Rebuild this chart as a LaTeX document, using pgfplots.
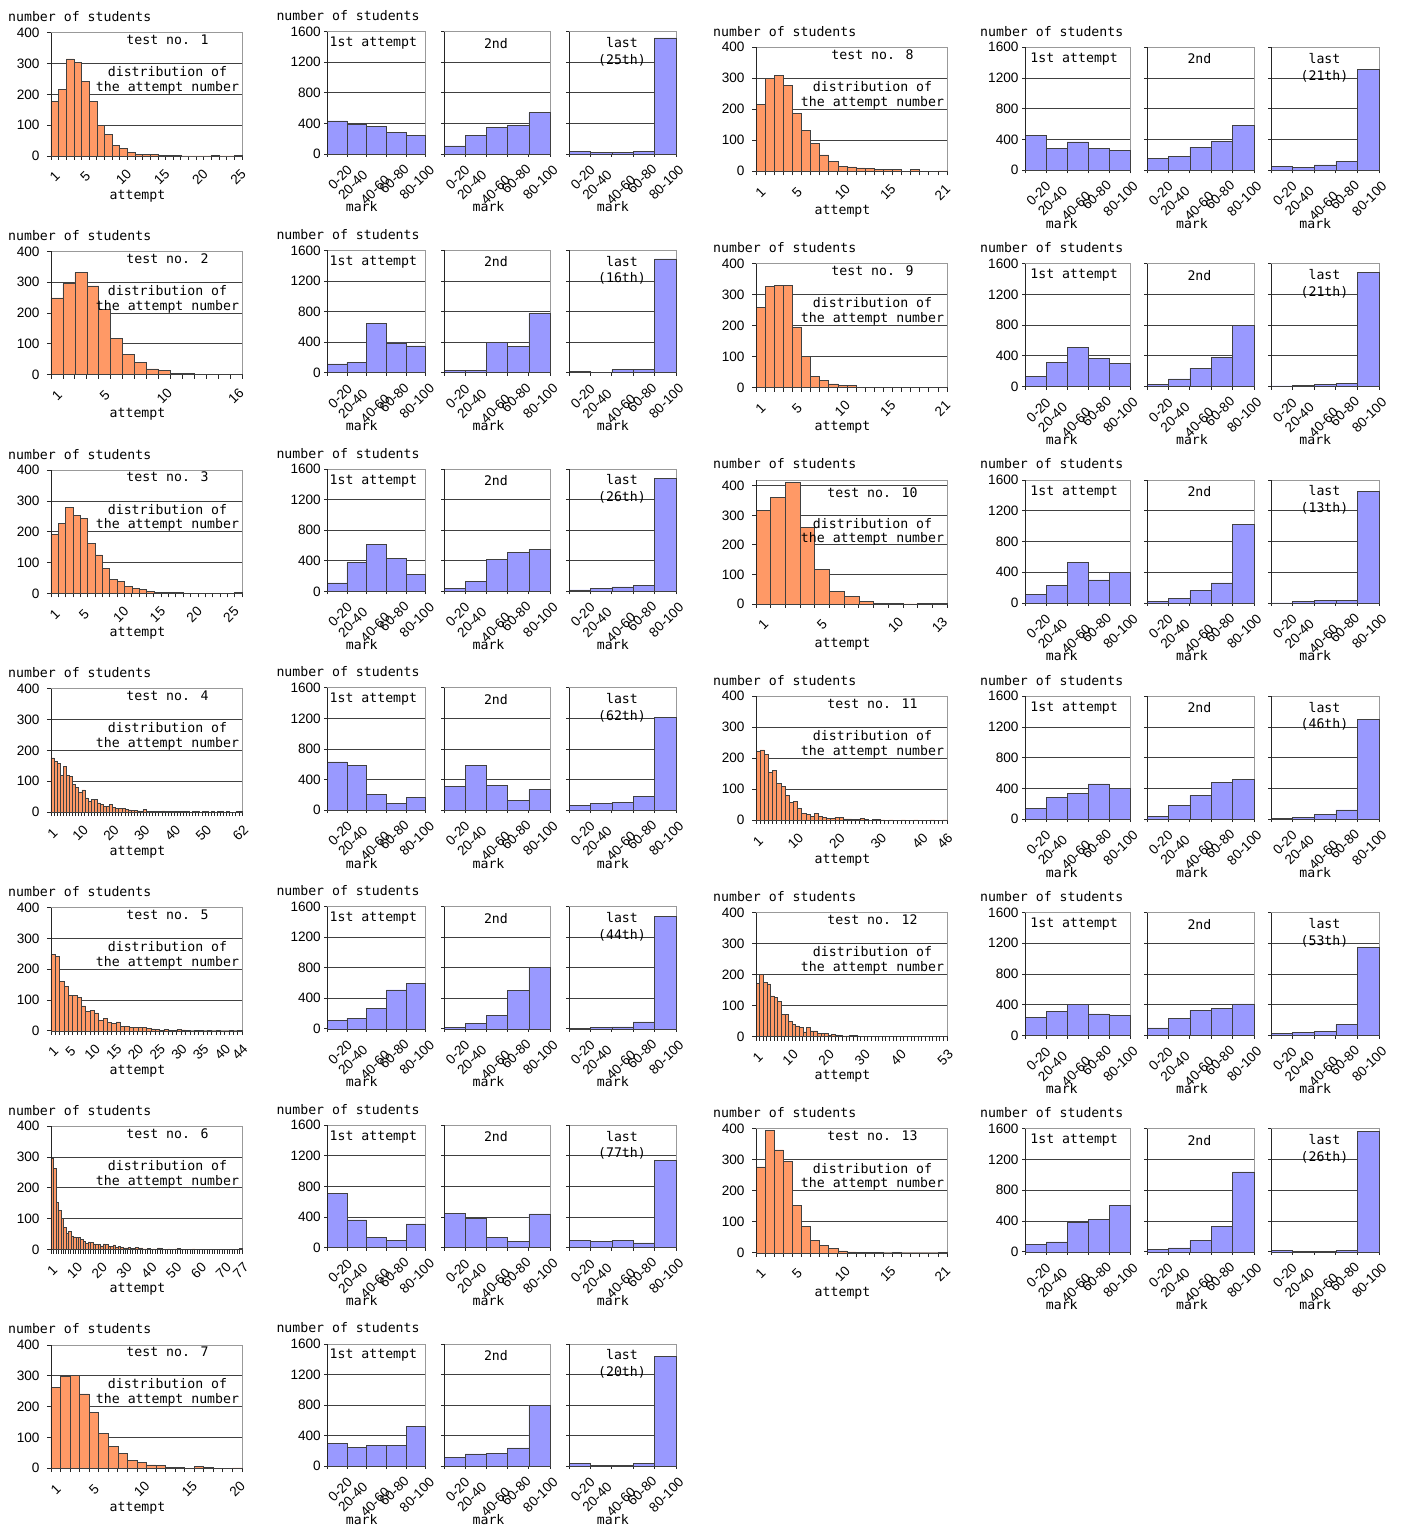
\documentclass[border=0pt]{standalone}
\usepackage{fontspec}
\setmainfont{DejaVu Sans Mono}
\newfontfamily\tickfamily{Liberation Sans}
\usepackage{pgfplots}
\pgfplotsset{compat=1.18}
\definecolor{orng}{HTML}{FF9966}
\definecolor{blu}{HTML}{9999FF}
\newcommand\txt{\fontsize{13.2}{16.7}\selectfont}
\newcommand\tck{\tickfamily\fontsize{13.6}{16}\selectfont}
\tikzset{tx/.style={font=\txt, inner sep=0pt}}
\pgfplotsset{
  common/.style={scale only axis, clip=false, ymin=0,
    axis line style={draw=black!40, line width=0.8pt},
    ymajorgrids, grid style={draw=black!75, line width=0.8pt},
    tick style={draw=black!85, line width=0.8pt},
    tick align=outside, tick pos=left,
    ticklabel style={font=\tck},
    /pgf/number format/assume math mode=true,
    /pgf/number format/1000 sep={},
    xticklabels={,,},
  },
}
% orange: #1 x, #2 top, #3 N, #4 ymax, #5 labelled ticks, #6 test no, #7 coords, #8 height
\newcommand\orangeax[8]{%
\pgfmathsetmacro\ya{377/#4}\pgfmathsetmacro\yb{273/#4}\pgfmathsetmacro\yc{221/#4}%
\begin{axis}[common, at={(#1pt,-#2pt)}, anchor=north west, width=191pt, height=#8pt,
  xmin=0.5, xmax=#3.5, ymax=#4, ytick={0,100,...,400},
  xtick={0.5,1.5,...,#3.5}, major tick length=4pt,
  extra x ticks={#5}, extra x tick labels={#5},
  extra x tick style={major tick length=0pt, xticklabel style={yshift=-21pt, rotate=45, anchor=center}},
  yticklabel style={xshift=-4pt}]
\addplot[ybar, bar width=1, bar shift=0pt, fill=orng, draw=black!75, line width=0.6pt] coordinates {#7};
\draw[black!85, line width=0.8pt] (rel axis cs:0,0) -- (rel axis cs:0,1);
\node[tx, anchor=west, xshift=-43pt, yshift=16pt] at (rel axis cs:0,1) {number of students};
\node[tx] at (axis description cs:0.61,\ya) {test no. #6};
\node[tx] at (axis description cs:0.61,\yb) {distribution of};
\node[tx] at (axis description cs:0.61,\yc) {the attempt number};
\node[tx, yshift=-40pt] at (axis description cs:0.453,0) {attempt};
\end{axis}}
\newcommand\bluelabels{%
  \node[font=\tck, inner sep=0pt, xshift=3pt, yshift=-23.5pt, rotate=45] at (axis cs:1,0) {0-20};
  \node[font=\tck, inner sep=0pt, xshift=-4pt, yshift=-31pt, rotate=45] at (axis cs:2,0) {20-40};
  \node[font=\tck, inner sep=0pt, xshift=-1.5pt, yshift=-36pt, rotate=45] at (axis cs:3,0) {40-60};
  \node[font=\tck, inner sep=0pt, xshift=-2pt, yshift=-25pt, rotate=45] at (axis cs:4,0) {60-80};
  \node[font=\tck, inner sep=0pt, xshift=1pt, yshift=-28.6pt, rotate=45] at (axis cs:5,0) {80-100};}
% blue: #1 x, #2 top, #3 width, #4 extra opts, #5 coords, #6 code, #7 height
\newcommand\blueax[7]{%
\begin{axis}[common, at={(#1pt,-#2pt)}, anchor=north west, width=#3pt, height=#7pt,
  xmin=0.5, xmax=5.5, ymax=1600, ytick={0,400,...,1600}, xtick={0.5,1.5,...,5.5},
  major tick length=3pt, #4]
\addplot[ybar, bar width=1, bar shift=0pt, fill=blu, draw=black!75, line width=0.6pt] coordinates {#5};
\draw[black!85, line width=0.8pt] (rel axis cs:0,0) -- (rel axis cs:0,1);
\bluelabels
#6
\end{axis}}
\newcommand\firstcode[1]{%
  \node[tx] at (axis description cs:0.468,0.905) {1st attempt};
  \node[tx, anchor=west, xshift=#1pt, yshift=16pt] at (rel axis cs:0,1) {number of students};
  \node[tx, yshift=-53pt] at (axis description cs:0.35,0) {mark};}
\newcommand\secondcode{%
  \node[tx] at (axis description cs:0.49,0.905) {2nd};
  \node[tx, yshift=-53pt] at (axis description cs:0.42,0) {mark};}
\newcommand\lastcode[1]{%
  \node[tx, align=center] at (axis description cs:0.495,0.836) {last\\(#1)};
  \node[tx, yshift=-53pt] at (axis description cs:0.41,0) {mark};}
\begin{document}
\begin{tikzpicture}
\useasboundingbox (0pt,0pt) rectangle (1403pt,-1530pt);
% ---------------- left column ----------------
% test 1
\orangeax{51}{32.7}{25}{400}{1,5,10,15,20,25}{1}{(1,176)(2,216)(3,315)(4,304)(5,242)(6,176)(7,99)(8,70)(9,35)(10,24)(11,11)(12,5)(13,4)(14,4)(15,1)(16,1)(17,1)(18,0)(19,0)(20,0)(21,0)(22,1)(23,0)(24,0)(25,1)}{123.3}
\blueax{327.3}{31.7}{98.4}{}{(1,432)(2,388)(3,366)(4,279)(5,248)}{\firstcode{-51}}{122.3}
\blueax{444}{31.7}{106}{yticklabels={,,}}{(1,105)(2,248)(3,353)(4,379)(5,540)}{\secondcode}{122.3}
\blueax{569}{31.7}{107}{yticklabels={,,}}{(1,30)(2,20)(3,25)(4,35)(5,1520)}{\lastcode{25th}}{122.3}
% test 2
\orangeax{51}{251.4}{16}{400}{1,5,10,16}{2}{(1,249)(2,295)(3,331)(4,288)(5,213)(6,117)(7,66)(8,40)(9,19)(10,13)(11,4)(12,5)(13,2)(14,1)(15,2)(16,2)}{123.3}
\blueax{327.3}{250.4}{98.4}{}{(1,115)(2,140)(3,650)(4,390)(5,350)}{\firstcode{-51}}{122.3}
\blueax{444}{250.4}{106}{yticklabels={,,}}{(1,35)(2,35)(3,400)(4,340)(5,780)}{\secondcode}{122.3}
\blueax{569}{250.4}{107}{yticklabels={,,}}{(1,15)(2,8)(3,45)(4,45)(5,1490)}{\lastcode{16th}}{122.3}
% test 3
\orangeax{51}{470.1}{26}{400}{1,5,10,15,20,25}{3}{(1,191)(2,226)(3,280)(4,253)(5,243)(6,163)(7,125)(8,82)(9,46)(10,40)(11,23)(12,16)(13,13)(14,6)(15,3)(16,2)(17,2)(18,2)(19,1)(20,0)(21,0)(22,0)(23,0)(24,0)(25,0)(26,2)}{123.3}
\blueax{327.3}{469.1}{98.4}{}{(1,110)(2,380)(3,610)(4,430)(5,220)}{\firstcode{-51}}{122.3}
\blueax{444}{469.1}{106}{yticklabels={,,}}{(1,40)(2,130)(3,420)(4,510)(5,545)}{\secondcode}{122.3}
\blueax{569}{469.1}{107}{yticklabels={,,}}{(1,20)(2,35)(3,60)(4,80)(5,1480)}{\lastcode{26th}}{122.3}
% test 4
\orangeax{51}{688.8}{62}{400}{1,10,20,30,40,50,62}{4}{(1,176)(2,165)(3,157)(4,119)(5,148)(6,118)(7,116)(8,90)(9,79)(10,64)(11,72)(12,46)(13,36)(14,41)(15,41)(16,30)(17,26)(18,18)(19,18)(20,24)(21,15)(22,12)(23,11)(24,11)(25,8)(26,7)(27,5)(28,6)(29,4)(30,3)(31,8)(32,2)(33,3)(34,3)(35,3)(36,2)(37,4)(38,2)(39,3)(40,1)(41,2)(42,1)(43,1)(44,2)(45,1)(46,0)(47,1)(48,1)(49,0)(50,1)(51,1)(52,0)(53,1)(54,0)(55,2)(56,1)(57,0)(58,1)(59,0)(60,0)(61,1)(62,1)}{123.3}
\blueax{327.3}{687.8}{98.4}{}{(1,630)(2,590)(3,210)(4,90)(5,170)}{\firstcode{-51}}{122.3}
\blueax{444}{687.8}{106}{yticklabels={,,}}{(1,310)(2,590)(3,320)(4,130)(5,270)}{\secondcode}{122.3}
\blueax{569}{687.8}{107}{yticklabels={,,}}{(1,60)(2,90)(3,100)(4,180)(5,1210)}{\lastcode{62th}}{122.3}
% test 5
\orangeax{51}{907.5}{44}{400}{1,5,10,15,20,25,30,35,40,44}{5}{(1,247)(2,241)(3,159)(4,144)(5,114)(6,116)(7,108)(8,81)(9,63)(10,66)(11,58)(12,33)(13,39)(14,28)(15,25)(16,29)(17,15)(18,14)(19,10)(20,12)(21,12)(22,10)(23,9)(24,6)(25,5)(26,1)(27,5)(28,1)(29,1)(30,5)(31,3)(32,1)(33,0)(34,1)(35,1)(36,0)(37,1)(38,0)(39,1)(40,0)(41,0)(42,1)(43,0)(44,1)}{123.3}
\blueax{327.3}{906.5}{98.4}{}{(1,110)(2,140)(3,270)(4,510)(5,590)}{\firstcode{-51}}{122.3}
\blueax{444}{906.5}{106}{yticklabels={,,}}{(1,20)(2,70)(3,180)(4,500)(5,800)}{\secondcode}{122.3}
\blueax{569}{906.5}{107}{yticklabels={,,}}{(1,5)(2,15)(3,25)(4,90)(5,1470)}{\lastcode{44th}}{122.3}
% test 6
\orangeax{51}{1126.2}{77}{400}{1,10,20,30,40,50,60,70,77}{6}{(1,295)(2,262)(3,154)(4,126)(5,100)(6,72)(7,52)(8,60)(9,44)(10,41)(11,40)(12,40)(13,32)(14,27)(15,21)(16,25)(17,22)(18,18)(19,17)(20,17)(21,12)(22,18)(23,16)(24,9)(25,11)(26,15)(27,8)(28,9)(29,6)(30,5)(31,5)(32,6)(33,4)(34,4)(35,6)(36,3)(37,5)(38,2)(39,2)(40,3)(41,1)(42,2)(43,1)(44,5)(45,4)(46,1)(47,1)(48,2)(49,1)(50,1)(51,2)(52,3)(53,1)(54,1)(55,0)(56,1)(57,1)(58,2)(59,1)(60,0)(61,1)(62,1)(63,0)(64,1)(65,0)(66,1)(67,1)(68,0)(69,0)(70,1)(71,0)(72,1)(73,0)(74,0)(75,1)(76,1)(77,3)}{123.3}
\blueax{327.3}{1125.2}{98.4}{}{(1,710)(2,360)(3,130)(4,90)(5,310)}{\firstcode{-51}}{122.3}
\blueax{444}{1125.2}{106}{yticklabels={,,}}{(1,450)(2,380)(3,130)(4,80)(5,440)}{\secondcode}{122.3}
\blueax{569}{1125.2}{107}{yticklabels={,,}}{(1,90)(2,80)(3,90)(4,60)(5,1140)}{\lastcode{77th}}{122.3}
% test 7
\orangeax{51}{1344.9}{20}{400}{1,5,10,15,20}{7}{(1,261)(2,297)(3,300)(4,241)(5,181)(6,112)(7,71)(8,48)(9,25)(10,19)(11,11)(12,8)(13,3)(14,2)(15,0)(16,7)(17,3)(18,0)(19,0)(20,1)}{123.3}
\blueax{327.3}{1343.9}{98.4}{}{(1,300)(2,250)(3,270)(4,270)(5,520)}{\firstcode{-51}}{122.3}
\blueax{444}{1343.9}{106}{yticklabels={,,}}{(1,120)(2,160)(3,170)(4,240)(5,800)}{\secondcode}{122.3}
\blueax{569}{1343.9}{107}{yticklabels={,,}}{(1,35)(2,15)(3,15)(4,40)(5,1440)}{\lastcode{20th}}{122.3}
% ---------------- right column ----------------
% test 8
\orangeax{756}{47.3}{21}{400}{1,5,10,15,21}{8}{(1,216)(2,300)(3,309)(4,276)(5,188)(6,133)(7,90)(8,53)(9,32)(10,17)(11,14)(12,11)(13,9)(14,6)(15,5)(16,5)(17,0)(18,5)(19,0)(20,0)(21,1)}{124}
\blueax{1025}{47.3}{105}{}{(1,450)(2,280)(3,370)(4,290)(5,260)}{\firstcode{-45}}{123}
\blueax{1147}{47.3}{107}{yticklabels={,,}}{(1,150)(2,180)(3,300)(4,380)(5,580)}{\secondcode}{123}
\blueax{1271}{47.3}{108}{yticklabels={,,}}{(1,50)(2,40)(3,70)(4,120)(5,1310)}{\lastcode{21th}}{123}
% test 9
\orangeax{756}{263.6}{21}{400}{1,5,10,15,21}{9}{(1,258)(2,326)(3,330)(4,329)(5,195)(6,100)(7,35)(8,23)(9,12)(10,6)(11,6)(12,1)(13,0)(14,0)(15,0)(16,0)(17,0)(18,0)(19,0)(20,0)(21,1)}{124}
\blueax{1025}{263.6}{105}{}{(1,130)(2,320)(3,510)(4,370)(5,300)}{\firstcode{-45}}{123}
\blueax{1147}{263.6}{107}{yticklabels={,,}}{(1,30)(2,100)(3,240)(4,380)(5,800)}{\secondcode}{123}
\blueax{1271}{263.6}{108}{yticklabels={,,}}{(1,10)(2,15)(3,30)(4,40)(5,1490)}{\lastcode{21th}}{123}
% test 10
\orangeax{756}{479.9}{13}{420}{1,5,10,13}{10}{(1,317)(2,361)(3,412)(4,260)(5,118)(6,41)(7,25)(8,9)(9,3)(10,3)(11,0)(12,3)(13,3)}{124}
\blueax{1025}{479.9}{105}{}{(1,110)(2,230)(3,530)(4,300)(5,400)}{\firstcode{-45}}{123}
\blueax{1147}{479.9}{107}{yticklabels={,,}}{(1,20)(2,60)(3,160)(4,260)(5,1020)}{\secondcode}{123}
\blueax{1271}{479.9}{108}{yticklabels={,,}}{(1,0)(2,20)(3,30)(4,30)(5,1450)}{\lastcode{13th}}{123}
% test 11
\orangeax{756}{696.2}{46}{400}{1,10,20,30,40,46}{11}{(1,223)(2,227)(3,212)(4,154)(5,160)(6,119)(7,108)(8,81)(9,58)(10,60)(11,39)(12,23)(13,18)(14,11)(15,22)(16,11)(17,8)(18,6)(19,6)(20,10)(21,9)(22,4)(23,4)(24,3)(25,2)(26,5)(27,3)(28,0)(29,2)(30,2)(31,1)(32,0)(33,1)(34,0)(35,0)(36,1)(37,0)(38,0)(39,1)(40,0)(41,0)(42,0)(43,1)(44,0)(45,0)(46,1)}{124}
\blueax{1025}{696.2}{105}{}{(1,140)(2,280)(3,340)(4,460)(5,400)}{\firstcode{-45}}{123}
\blueax{1147}{696.2}{107}{yticklabels={,,}}{(1,40)(2,180)(3,310)(4,480)(5,520)}{\secondcode}{123}
\blueax{1271}{696.2}{108}{yticklabels={,,}}{(1,15)(2,25)(3,65)(4,120)(5,1300)}{\lastcode{46th}}{123}
% test 12
\orangeax{756}{912.5}{53}{400}{1,10,20,30,40,53}{12}{(1,172)(2,200)(3,174)(4,170)(5,131)(6,126)(7,112)(8,72)(9,72)(10,49)(11,38)(12,34)(13,30)(14,15)(15,29)(16,18)(17,18)(18,10)(19,10)(20,10)(21,4)(22,6)(23,3)(24,3)(25,2)(26,2)(27,3)(28,3)(29,1)(30,1)(31,0)(32,1)(33,0)(34,0)(35,1)(36,0)(37,0)(38,0)(39,1)(40,0)(41,0)(42,0)(43,0)(44,1)(45,0)(46,0)(47,0)(48,0)(49,1)(50,0)(51,0)(52,0)(53,1)}{124}
\blueax{1025}{912.5}{105}{}{(1,240)(2,310)(3,400)(4,280)(5,260)}{\firstcode{-45}}{123}
\blueax{1147}{912.5}{107}{yticklabels={,,}}{(1,100)(2,220)(3,330)(4,350)(5,410)}{\secondcode}{123}
\blueax{1271}{912.5}{108}{yticklabels={,,}}{(1,30)(2,40)(3,50)(4,140)(5,1150)}{\lastcode{53th}}{123}
% test 13
\orangeax{756}{1128.8}{21}{400}{1,5,10,15,21}{13}{(1,277)(2,395)(3,332)(4,295)(5,153)(6,86)(7,39)(8,25)(9,13)(10,6)(11,3)(12,2)(13,2)(14,1)(15,0)(16,1)(17,0)(18,0)(19,0)(20,0)(21,1)}{124}
\blueax{1025}{1128.8}{105}{}{(1,100)(2,130)(3,380)(4,420)(5,600)}{\firstcode{-45}}{123}
\blueax{1147}{1128.8}{107}{yticklabels={,,}}{(1,30)(2,50)(3,150)(4,330)(5,1040)}{\secondcode}{123}
\blueax{1271}{1128.8}{108}{yticklabels={,,}}{(1,20)(2,5)(3,10)(4,15)(5,1570)}{\lastcode{26th}}{123}
\end{tikzpicture}
\end{document}
